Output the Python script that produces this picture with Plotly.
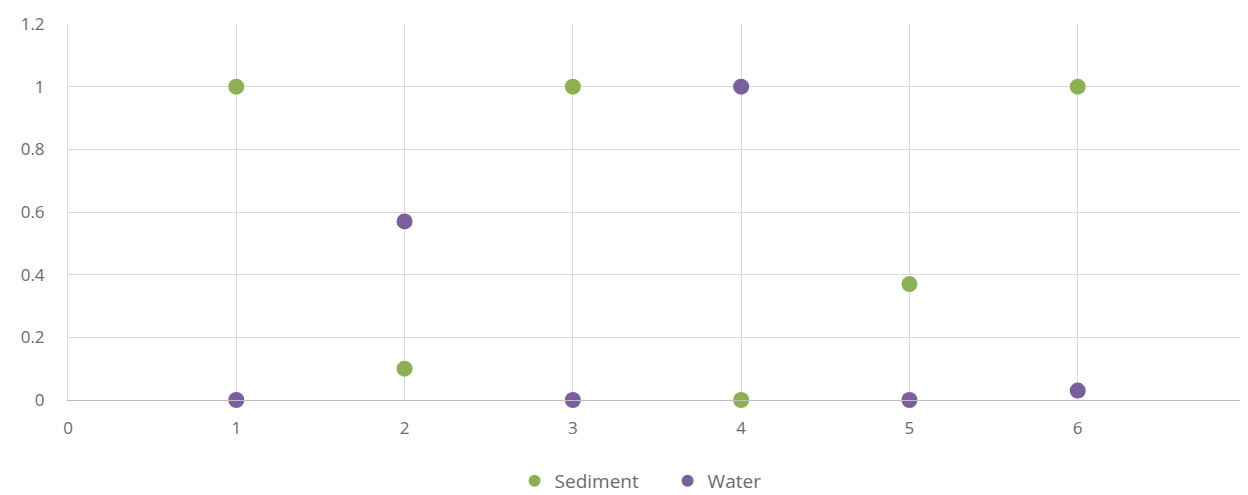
import plotly.graph_objects as go

x_vals = [1, 2, 3, 4, 5, 6]
sediment = [1, 0.1, 1, 0, 0.37, 1]
water = [0, 0.57, 0, 1, 0, 0.03]
x_ticks = [0, 1, 2, 3, 4, 5, 6, 7]
y_ticks = [0, 0.2, 0.4, 0.6, 0.8, 1, 1.2]
y_tick_text = ["0", "0.2", "0.4", "0.6", "0.8", "1", "1.2"]

GREEN = "#8CB152"
PURPLE = "#7A5E9E"
font_family = "Open Sans, Noto Sans, sans-serif"

fig = go.Figure()
fig.add_trace(go.Scatter(x=x_vals, y=sediment, mode="markers", name="Sediment",
                         cliponaxis=False, marker=dict(color=GREEN, size=16)))
fig.add_trace(go.Scatter(x=x_vals, y=water, mode="markers", name="Water",
                         cliponaxis=False, marker=dict(color=PURPLE, size=16)))

fig.update_layout(
    width=1240, height=487,
    margin=dict(l=60, r=2, t=16, b=95, autoexpand=False),
    plot_bgcolor="white", paper_bgcolor="white",
    font=dict(family=font_family, size=17, color="#6b6b6b"),
    showlegend=True,
    legend=dict(orientation="h", x=0.509, xanchor="center", y=-0.215, yanchor="middle",
                font=dict(size=19, color="#6b6b6b"), itemsizing="constant",
                itemwidth=30, tracegroupgap=0, entrywidth=108, entrywidthmode="pixels"),
    xaxis=dict(range=[0, 7], tickvals=x_ticks, showgrid=True, gridcolor="#D9D9D9",
               gridwidth=1, zeroline=False, showline=True, linecolor="#BFBFBF",
               ticklabelstandoff=13, ticklabeloverflow="allow",
               automargin=False, fixedrange=True),
    yaxis=dict(range=[0, 1.2], tickvals=y_ticks, ticktext=y_tick_text, showgrid=True,
               gridcolor="#D9D9D9", gridwidth=1, zeroline=False,
               showline=True, mirror=True, linecolor="#D9D9D9",
               ticklabelstandoff=19, automargin=False, fixedrange=True),
)

fig.write_html("out.html")
